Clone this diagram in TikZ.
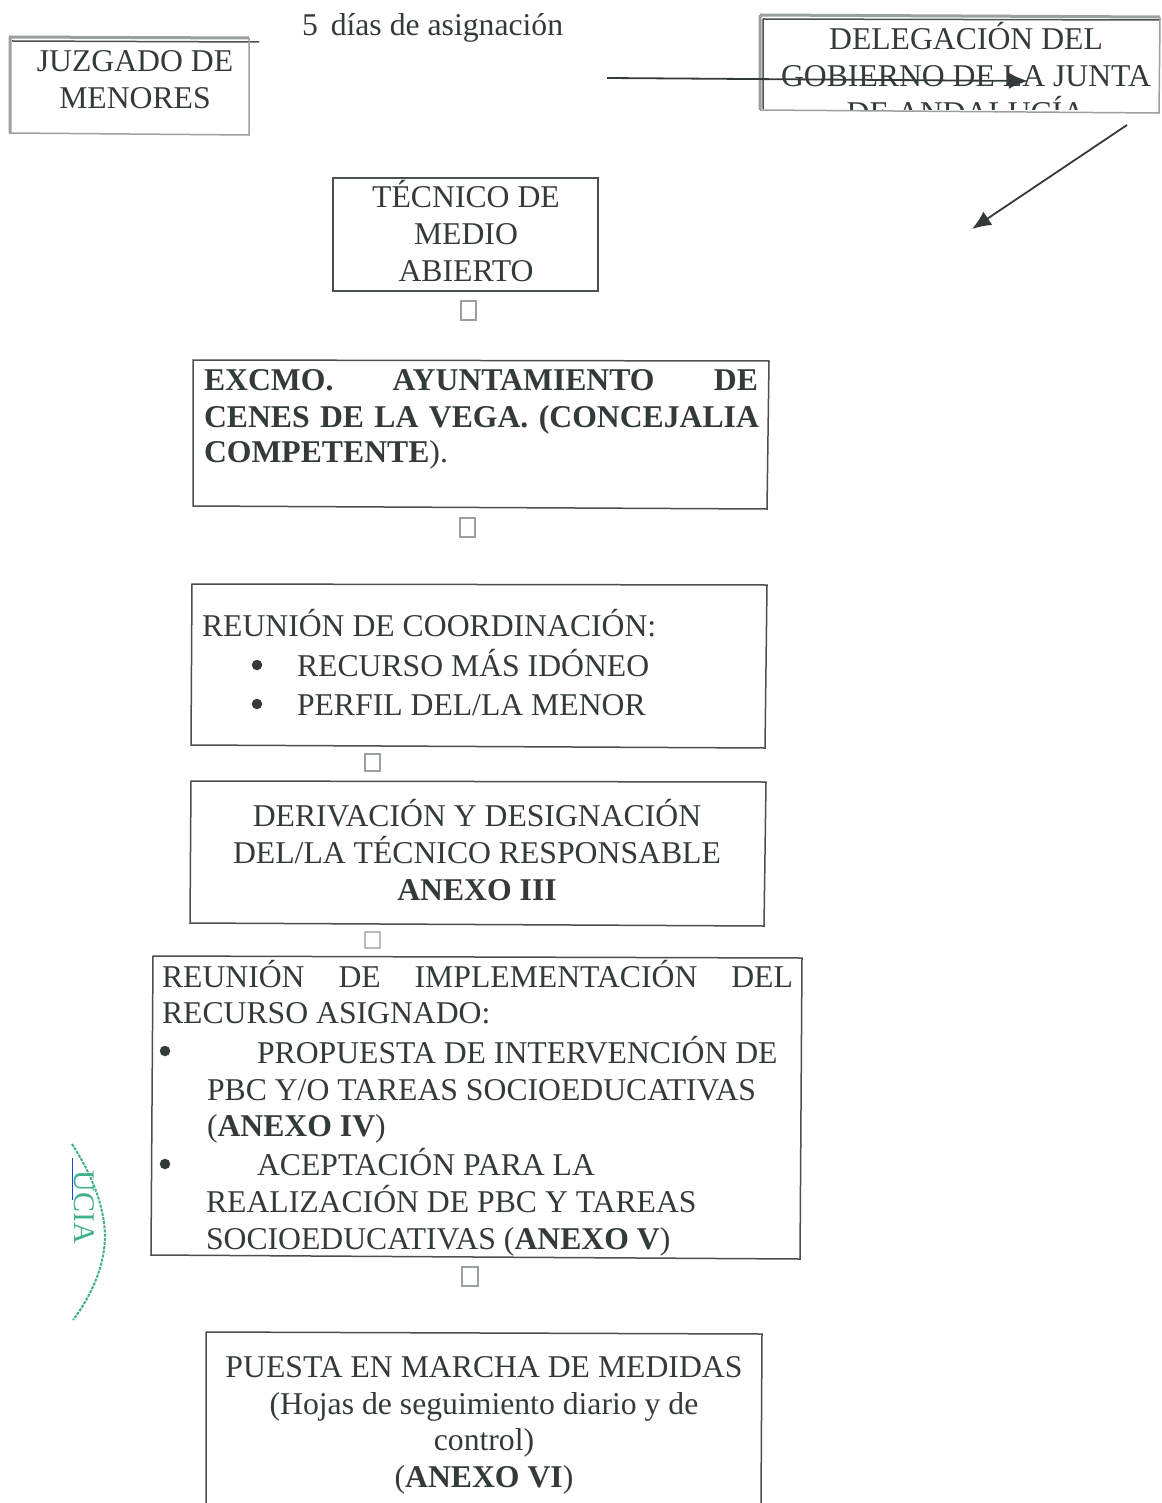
\documentclass[tikz,border=0pt]{standalone}
\usepackage{fontspec}
\setmainfont{Liberation Serif}
\usetikzlibrary{arrows.meta}
\definecolor{ink}{HTML}{343A3A}
\definecolor{frame}{HTML}{4A4F4F}
\definecolor{pale}{HTML}{9AA09E}
\definecolor{stamp}{HTML}{3FB08C}
\tikzset{
  x=1pt,y=-1pt,
  every node/.style={inner sep=0pt,outer sep=0pt,text=ink,font=\fontsize{31.7}{37}\selectfont},
  line/.style={anchor=base west},
  cline/.style={anchor=base},
  boxline/.style={draw=frame,line width=1.5pt},
  paleline/.style={draw=pale,line width=3pt},
  tick/.style={draw=pale,line width=1.2pt},
  dotmark/.style={circle,fill=ink,minimum size=10.5pt},
  arrowline/.style={draw=ink,line width=1.8pt,-{Latex[length=19pt,width=16pt]}}
}
\begin{document}
\begin{tikzpicture}
\useasboundingbox (0,0) rectangle (1161,1503);
% Juzgado
\draw[paleline] (9,37) -- (249,38) (10,37) -- (10,133);
\draw[boxline] (12,41) -- (259,42);
\draw[draw=pale,line width=1.5pt] (249,38) -- (249,135) -- (9,133);
\node[cline] (j1) at (135,72) {JUZGADO DE};
\node[cline] (j2) at (135,109) {MENORES};
% Plazo
\node[line] (plazo) at (302,36) {5\hspace{5pt} días de asignación};
% Delegacion
\begin{scope}
\clip (755,10) rectangle (1161,110);
\node[cline] (d3) at (966,124) {DE ANDALUCÍA};
\end{scope}
\draw[paleline] (760,15) -- (1160,17) (760,15) -- (760,110);
\draw[boxline] (763,19) -- (1160,20) (763,19) -- (763,109);
\draw[draw=pale,line width=1.5pt] (1160,18) -- (1159,113) -- (760,110);
\node[cline] (d1) at (966,50) {DELEGACIÓN DEL};
\node[cline] (d2) at (966,87) {GOBIERNO DE LA JUNTA};
\coordinate (a1s) at (607,78);
\coordinate (a1e) at (1028,81);
\coordinate (a2s) at (1127,125);
\coordinate (a2e) at (972,229);
\draw[arrowline] (a1s) -- (a1e);
\draw[arrowline] (a2s) -- (a2e);
% Tecnico
\node[draw=frame,line width=1.5pt,minimum width=265pt,minimum height=113pt] (tec) at (465.5,234.5) {};
\node[cline] at (466,208) (t1) {TÉCNICO DE};
\node[cline] at (466,245) (t2) {MEDIO};
\node[cline] at (466,282) (t3) {ABIERTO};
\node[tick,minimum width=15pt,minimum height=19pt] (s1) at (468.5,310.5) {};
% Excmo
\draw[boxline] (193,360) -- (769,361) -- (767,509) -- (193,506) -- cycle;
\node[line,font=\fontsize{31.7}{37}\selectfont\bfseries] (e1) at (204,390) {\makebox[554pt][s]{EXCMO.\hfill AYUNTAMIENTO\hfill DE}};
\node[line,font=\fontsize{31.7}{37}\selectfont\bfseries] (e2) at (204,427) {\makebox[555pt][s]{CENES\hfill DE\hfill LA\hfill VEGA.\hfill (CONCEJALIA}};
\node[line] (e3) at (204,462) {\textbf{COMPETENTE}).};
\node[tick,minimum width=15pt,minimum height=19pt] (s2) at (467.5,527.5) {};
% Reunion
\draw[boxline] (192,584) -- (767,585) -- (765,748) -- (191,745) -- cycle;
\node[line] (r1) at (202,636) {REUNIÓN DE COORDINACIÓN:};
\node[dotmark] (b1) at (257,665) {};
\node[line] (r2) at (297,676) {RECURSO MÁS IDÓNEO};
\node[dotmark] (b2) at (257,704) {};
\node[line] (r3) at (297,715) {PERFIL DEL/LA MENOR};
\node[tick,minimum width=15pt,minimum height=17pt] (s3) at (372.5,762.5) {};
% Derivacion
\draw[boxline] (191,781) -- (766,782) -- (764,926) -- (190,923) -- cycle;
\node[cline] (v1) at (477,826) {DERIVACIÓN Y DESIGNACIÓN};
\node[cline] (v2) at (477,863) {DEL/LA TÉCNICO RESPONSABLE};
\node[cline] (v3) at (477,900) {\textbf{ANEXO III}};
\node[tick,draw=pale!70,minimum width=15pt,minimum height=16pt] (s4) at (372.5,940) {};
% Implementacion
\draw[boxline] (153,956) -- (802,958) -- (800,1259) -- (151,1255) -- cycle;
\node[line] (i1) at (162,987) {\makebox[631pt][s]{REUNIÓN\hfill DE\hfill IMPLEMENTACIÓN\hfill DEL}};
\node[line] (i2) at (162,1023) {RECURSO ASIGNADO:};
\node[dotmark] (b3) at (165,1051) {};
\node[line] (i3) at (257,1063) {PROPUESTA DE INTERVENCIÓN DE};
\node[line] (i4) at (207,1100) {PBC Y/O TAREAS SOCIOEDUCATIVAS};
\node[line] (i5) at (207,1136) {(\textbf{ANEXO IV})};
\node[dotmark] (b4) at (165,1164) {};
\node[line] (i6) at (257,1175) {ACEPTACIÓN PARA LA};
\node[line] (i7) at (206,1212) {REALIZACIÓN DE PBC Y TAREAS};
\node[line] (i8) at (206,1249) {SOCIOEDUCATIVAS (\textbf{ANEXO V})};
\node[tick,minimum width=16pt,minimum height=19pt] (s5) at (470,1276.5) {};
% Puesta
\draw[boxline] (206,1503) -- (206,1332) -- (762,1334) -- (761,1503);
\node[cline] (p1) at (484,1377) {PUESTA EN MARCHA DE MEDIDAS};
\node[cline] (p2) at (484,1414) {(Hojas de seguimiento diario y de};
\node[cline] (p3) at (484,1450) {control)};
\node[cline] (p4) at (484,1487) {(\textbf{ANEXO VI})};
% Sello
\draw[stamp,line width=2pt,dash pattern=on 3pt off 1.2pt] (72,1144) .. controls (92,1175) and (104,1205) .. (105,1235) .. controls (105,1265) and (92,1295) .. (73,1320);
\draw[blue!60!stamp,line width=1pt] (72,1158) -- (72,1200);
\begin{scope}
\clip (72,1150) rectangle (100,1260);
\node[rotate=-90,text=stamp,font=\fontsize{30}{30}\selectfont] (seal) at (84,1207) {UCIA};
\end{scope}
\end{tikzpicture}
\end{document}
